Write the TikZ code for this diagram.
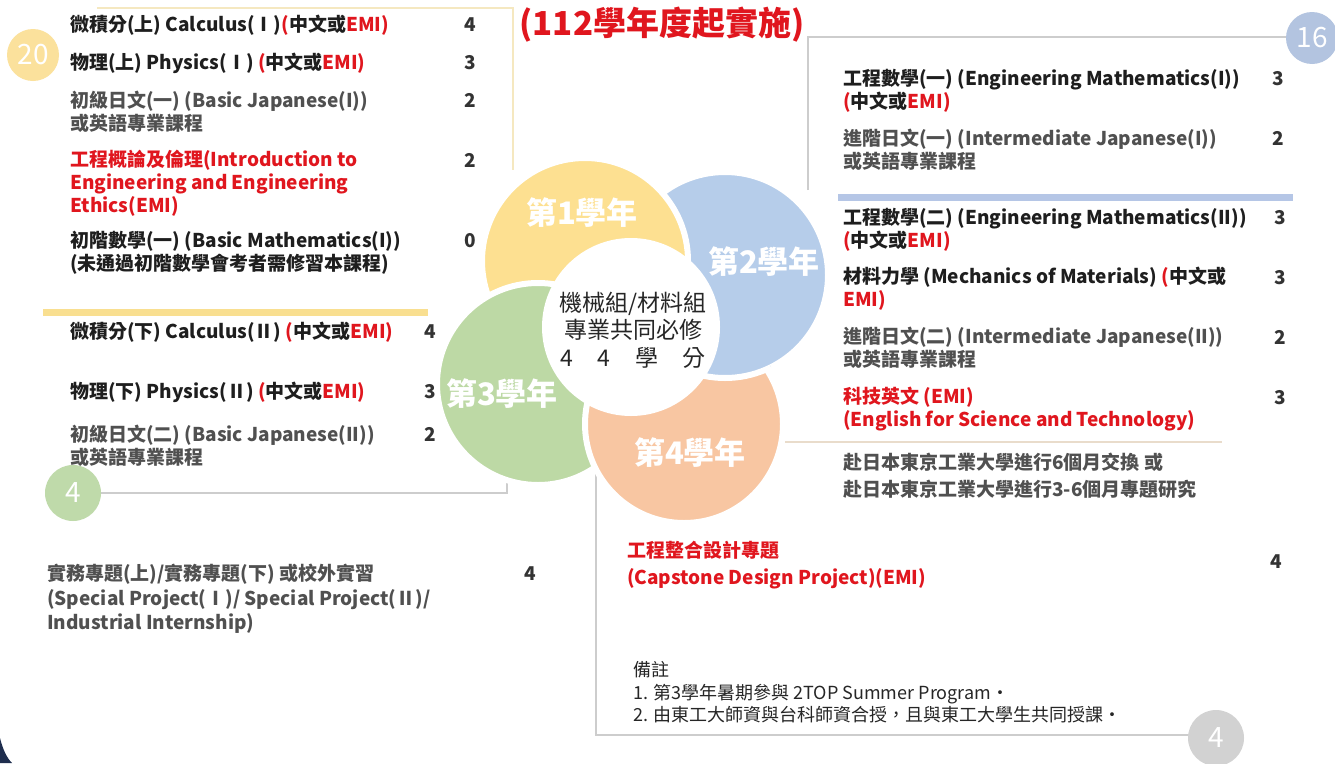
\documentclass[tikz,border=0pt]{standalone}
\usepackage{fontspec}
\setmainfont{Noto Sans CJK TC}
\definecolor{cred}{HTML}{E0161E}
\definecolor{tdark}{HTML}{1E1E1E}
\definecolor{tgray}{HTML}{505050}
\definecolor{numc}{HTML}{333333}
\definecolor{pyellow}{HTML}{FDE091}
\definecolor{pblue}{HTML}{B6CDEA}
\definecolor{pgreen}{HTML}{BDD9A5}
\definecolor{porange}{HTML}{F8C6A2}
\definecolor{b20}{HTML}{FBE19C}
\definecolor{b16}{HTML}{B3C4E0}
\definecolor{bgreen}{HTML}{BFDAAA}
\definecolor{bgray}{HTML}{D2D2D2}
\definecolor{frameyellow}{HTML}{F5E8C0}
\definecolor{framegray}{HTML}{CDCDCD}
\definecolor{framebeige}{HTML}{E9DCCB}
\definecolor{baryellow}{HTML}{F9DF90}
\definecolor{barblue}{HTML}{B5C6E6}
\definecolor{navy}{HTML}{1F2E4E}
\definecolor{coretext}{HTML}{262626}
\newcommand\RED[1]{\textcolor{cred}{#1}}
\begin{document}
\begin{tikzpicture}[x=1pt,y=-1pt,
  txt/.style={inner sep=0pt, anchor=west, align=left, font=\fontsize{19}{23}\selectfont\bfseries, text=tdark},
  gtxt/.style={txt, text=tgray},
  rtxt/.style={txt, text=cred},
  num/.style={inner sep=0pt, anchor=center, font=\fontsize{19}{23}\selectfont\bfseries, text=numc},
  petal/.style={circle, draw=white, line width=6pt, inner sep=0pt, minimum size=#1},
  petallabel/.style={inner sep=0pt, text=white, font=\fontsize{31}{31}\selectfont\bfseries},
  badge/.style={circle, inner sep=0pt, minimum size=#1, text=white, font=\fontsize{28}{28}\selectfont},
  frame/.style={line width=1.2pt},
  bar/.style={line width=7pt}
]
\useasboundingbox (0,0) rectangle (1335,763);
\fill[white] (0,0) rectangle (1335,763);
\fill[navy] (0,738) .. controls (3,750) and (7,758) .. (12,763) -- (0,763) -- cycle;

% frames
\draw[frame, frameyellow] (97,8) -- (513,8) -- (513,170);
\draw[frame, framegray] (808,190) -- (808,37) -- (1290,37);
\draw[frame, framegray] (100,493) -- (507,493) -- (507,465);
\draw[frame, framegray] (596,470) -- (596,735) -- (1190,735);
\draw[frame, framebeige] (785,442) -- (1222,442);
\draw[bar, baryellow] (43,312) -- (428,312);
\draw[bar, barblue] (838,197) -- (1293,197);

% badges
\node[badge=52pt, fill=b20] (n20) at (33,55) {20};
\node[badge=52pt, fill=b16] (n16) at (1312,38) {16};
\node[badge=56pt, fill=bgreen] (n4a) at (73,493) {4};
\node[badge=56pt, fill=bgray] (n4b) at (1216,738) {4};

% flower (pinwheel overlap: blue < yellow < green < orange < blue)
\node[petal=206pt, fill=pblue] (y2) at (725,275) {};
\node[petal=206pt, fill=pyellow] (y1) at (585,261) {};
\node[petal=202pt, fill=pgreen] (y3) at (538,384) {};
\node[petal=198pt, fill=porange] (y4) at (684,424) {};
\begin{scope}
  \clip (684,424) circle[radius=104pt];
  \node[petal=206pt, fill=pblue] (y2b) at (725,275) {};
\end{scope}
\node[petal=172pt, fill=white] (core) at (631,327) {};
\node[petallabel] (l1) at (582,213) {第1學年};
\node[petallabel] (l2) at (764,262) {第2學年};
\node[petallabel] (l3) at (502,394) {第3學年};
\node[petallabel] (l4) at (690,453) {第4學年};
\node[inner sep=0pt, align=center, text=coretext, font=\fontsize{23}{27.5}\selectfont] (coretxt) at (633,330)
  {機械組/材料組\\專業共同必修\\\makebox[146pt]{4\hfill 4\hfill 學\hfill 分}};

% title
\node[inner sep=0pt, text=cred, font=\fontsize{33}{33}\selectfont\bfseries] (title) at (662,25) {(112學年度起實施)};

% year 1
\node[txt] (a1) at (70,25) {微積分(上) Calculus(Ⅰ)\RED{(}中文或\RED{EMI)}};
\node[num] (a1n) at (470,25) {4};
\node[txt] (a2) at (70,63) {物理(上) Physics(Ⅰ) \RED{(}中文或\RED{EMI)}};
\node[num] (a2n) at (470,63) {3};
\node[gtxt] (a3) at (70,111.5) {初級日文(一) (Basic Japanese(I))\\或英語專業課程};
\node[num] (a3n) at (470,100) {2};
\node[rtxt] (a4) at (70,183) {工程概論及倫理(Introduction to\\Engineering and Engineering\\Ethics(EMI)};
\node[num] (a4n) at (470,160) {2};
\node[txt] (a5) at (70,253) {初階數學(一) (Basic Mathematics(I))\\(未通過初階數學會考者需修習本課程)};
\node[num] (a5n) at (470,241) {0};

% year 1 second semester
\node[txt] (b1) at (70,332) {微積分(下) Calculus(Ⅱ) \RED{(}中文或\RED{EMI)}};
\node[num] (b1n) at (430,332) {4};
\node[txt] (b2) at (70,392) {物理(下) Physics(Ⅱ) \RED{(}中文或\RED{EMI)}};
\node[num] (b2n) at (430,392) {3};
\node[gtxt] (b3) at (70,445.5) {初級日文(二) (Basic Japanese(II))\\或英語專業課程};
\node[num] (b3n) at (430,434) {2};

% year 3
\node[gtxt, font=\fontsize{19}{24.5}\selectfont\bfseries] (c1) at (47,599) {實務專題(上)/實務專題(下) 或校外實習\\(Special Project(Ⅰ)/ Special Project(Ⅱ)/\\Industrial Internship)};
\node[num] (c1n) at (530,574) {4};

% year 2
\node[txt] (d1) at (843,90.5) {工程數學(一) (Engineering Mathematics(I))\\\RED{(}中文或\RED{EMI)}};
\node[num] (d1n) at (1278,79) {3};
\node[gtxt] (d2) at (843,149.5) {進階日文(一) (Intermediate Japanese(I))\\或英語專業課程};
\node[num] (d2n) at (1278,138) {2};
\node[txt] (d3) at (843,229.5) {工程數學(二) (Engineering Mathematics(II))\\\RED{(}中文或\RED{EMI)}};
\node[num] (d3n) at (1280,218) {3};
\node[txt] (d4) at (843,289) {材料力學 (Mechanics of Materials) \RED{(}中文或\\\RED{EMI)}};
\node[num] (d4n) at (1280,278) {3};
\node[gtxt] (d5) at (843,348) {進階日文(二) (Intermediate Japanese(II))\\或英語專業課程};
\node[num] (d5n) at (1280,337) {2};
\node[rtxt] (d6) at (843,409) {科技英文 (EMI)\\(English for Science and Technology)};
\node[num] (d6n) at (1280,398) {3};
\node[gtxt, font=\fontsize{19}{27}\selectfont\bfseries] (d7) at (843,475.5) {赴日本東京工業大學進行6個月交換 或\\赴日本東京工業大學進行3-6個月專題研究};

% year 4
\node[rtxt, font=\fontsize{19}{27}\selectfont\bfseries] (e1) at (627,565.5) {工程整合設計專題\\(Capstone Design Project)(EMI)};
\node[num] (e1n) at (1276,562) {4};
\node[txt, text=coretext, font=\fontsize{18}{22.5}\selectfont] (notes) at (633,692.5) {備註\\1. 第3學年暑期參與 2TOP Summer Program・\\2. 由東工大師資與台科師資合授，且與東工大學生共同授課・};
\end{tikzpicture}
\end{document}
